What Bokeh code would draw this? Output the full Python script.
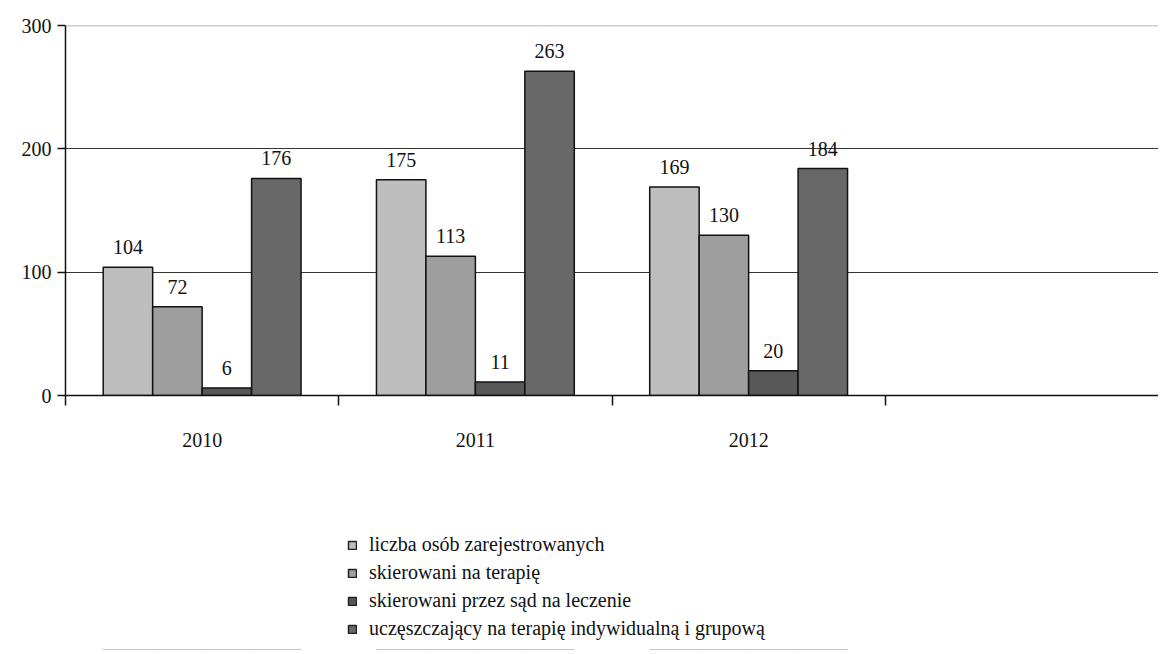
import numpy as np
from bokeh.plotting import figure
from bokeh.layouts import column
from bokeh.models import (ColumnDataSource, FixedTicker, LabelSet, Legend, LegendItem,
                          Range1d, Span)
from bokeh.embed import file_html
from bokeh.resources import INLINE

years = ["2010", "2011", "2012"]
series_names = [
    "liczba osób zarejestrowanych",
    "skierowani na terapię",
    "skierowani przez sąd na leczenie",
    "uczęszczający na terapię indywidualną i grupową",
]
registered = [104, 175, 169]
referred_therapy = [72, 113, 130]
referred_court = [6, 11, 20]
attending = [176, 263, 184]
y_ticks = [0, 100, 200, 300]

series_values = [registered, referred_therapy, referred_court, attending]
colors = ["#bebebe", "#9e9e9e", "#585858", "#686868"]
FONT = "Liberation Serif"
W = 1158

p = figure(width=W, height=470, output_backend="svg", toolbar_location=None,
           x_range=Range1d(0, 4), y_range=Range1d(0, y_ticks[-1]),
           min_border_left=65, min_border_top=25, min_border_right=0,
           min_border_bottom=75)
p.outline_line_color = None
p.background_fill_color = "white"

# legend figure: shares the sources, its y range keeps its marks off the canvas
lg = figure(width=W, height=180, output_backend="svg", toolbar_location=None,
            x_range=Range1d(0, 4), y_range=Range1d(500, 800),
            min_border_left=0, min_border_right=0, min_border_top=0, min_border_bottom=0)
lg.axis.visible = False
lg.grid.visible = False
lg.outline_line_color = None

bw = 0.181
centers = np.arange(len(years)) + 0.5
items = []
for i, (name, vals, col) in enumerate(zip(series_names, series_values, colors)):
    xs = centers + (i - 1.5) * bw
    src = ColumnDataSource(dict(x=xs, top=vals, txt=[str(v) for v in vals]))
    p.vbar(x="x", top="top", width=bw, source=src, fill_color=col,
           line_color="#111111", line_width=1.5)
    lbl = LabelSet(x="x", y="top", text="txt", source=src, text_align="center",
                   text_baseline="bottom", y_offset=13, text_font=FONT,
                   text_font_size="20px", text_color="#111111")
    p.add_layout(lbl)
    r = lg.vbar(x="x", top="top", bottom="top", width=bw, source=src, fill_color=col,
                line_color="#222222", line_width=1.5)
    items.append(LegendItem(label=name, renderers=[r]))

# x axis
p.xaxis.ticker = FixedTicker(ticks=list(centers), minor_ticks=[0, 1, 2, 3])
p.xaxis.major_label_overrides = {float(c): y for c, y in zip(centers, years)}
p.xaxis.major_tick_out = 0
p.xaxis.major_tick_in = 0
p.xaxis.minor_tick_out = 10
p.xaxis.minor_tick_in = 0
p.xaxis.minor_tick_line_color = "#111111"
p.xaxis.minor_tick_line_width = 1.5
p.xaxis.major_label_standoff = 27
p.xaxis.axis_line_color = "#111111"
p.xaxis.axis_line_width = 1.5

# y axis
p.yaxis.ticker = FixedTicker(ticks=y_ticks, minor_ticks=[])
p.yaxis.major_tick_out = 8
p.yaxis.major_tick_in = 0
p.yaxis.major_tick_line_width = 1.5
p.yaxis.major_tick_line_color = "#111111"
p.yaxis.axis_line_color = "#111111"
p.yaxis.axis_line_width = 1.5
p.yaxis.major_label_standoff = 6

for ax in (p.xaxis, p.yaxis):
    ax.major_label_text_font = FONT
    ax.major_label_text_font_size = "20px"
    ax.major_label_text_color = "#111111"

p.xgrid.visible = False
p.ygrid.ticker = FixedTicker(ticks=y_ticks[:-1])
p.ygrid.grid_line_color = "#333333"
p.ygrid.grid_line_width = 1.2
p.add_layout(Span(location=y_ticks[-1], dimension="width", line_color="#9a9a9a",
                  line_width=1.5))

legend = Legend(items=items, location=(282, 10), orientation="vertical",
                label_text_font=FONT, label_text_font_size="20px",
                label_text_color="#111111",
                glyph_width=10, glyph_height=10, label_height=20, spacing=5,
                label_standoff=12, padding=0, margin=0,
                border_line_color=None, background_fill_alpha=0)
lg.add_layout(legend, "center")

layout = column(p, lg, spacing=0)
open("out.html", "w").write(file_html(layout, INLINE))
